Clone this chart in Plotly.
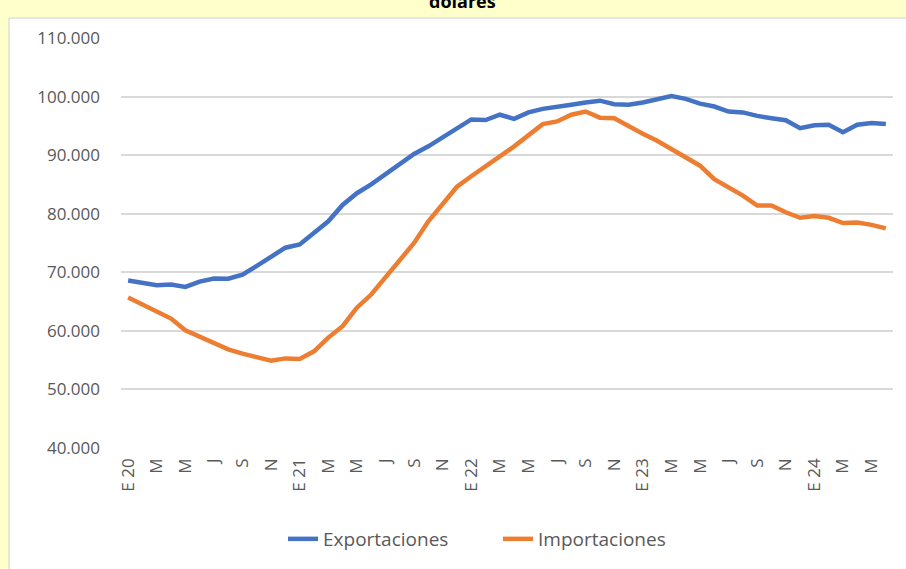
import plotly.graph_objects as go

# Monthly labels Jan 2020 .. Jun 2024 (54 months)
month_letters = ["E", "F", "M", "A", "M", "J", "J", "A", "S", "O", "N", "D"]
years = ["20", "21", "22", "23", "24"]
months = []
for y in years:
    for m in month_letters:
        months.append(f"{m} {y}" if m == "E" else m)
months = months[:54]

exportaciones = [
    68.6, 68.2, 67.8, 67.9, 67.5, 68.4, 68.95, 68.9, 69.6, 71.1,
    72.75, 74.2, 74.75, 76.7, 78.7, 81.5, 83.5, 85.0, 86.7, 88.5,
    90.2, 91.5, 93.1, 94.6, 96.1, 96.0, 96.9, 96.2, 97.3, 97.9,
    98.2, 98.6, 99.0, 99.3, 98.7, 98.6, 99.0, 99.55, 100.1, 99.6,
    98.8, 98.3, 97.45, 97.3, 96.7, 96.3, 95.95, 94.6, 95.1, 95.2,
    93.9, 95.2, 95.5, 95.3,
]
importaciones = [
    65.7, 64.5, 63.4, 62.1, 60.1, 59.0, 58.0, 56.85, 56.1, 55.45,
    54.9, 55.3, 55.2, 56.5, 58.85, 60.8, 63.95, 66.2, 69.2, 71.9,
    75.0, 78.7, 81.55, 84.6, 86.4, 88.0, 89.8, 91.5, 93.3, 95.3,
    95.75, 96.9, 97.45, 96.4, 96.3, 94.9, 93.65, 92.45, 91.0, 89.7,
    88.2, 85.9, 84.6, 83.1, 81.4, 81.4, 80.25, 79.3, 79.6, 79.3,
    78.4, 78.5, 78.1, 77.5,
]
y_ticks = [40000, 50000, 60000, 70000, 80000, 90000, 100000, 110000]

x_idx = list(range(len(months)))
tick_idx = x_idx[::2]
tick_txt = [months[i] for i in tick_idx]

W, H = 906, 569
L, R, T, B = 121, 13, 38, 120
pw, ph = W - L - R, H - T - B
bottom = T + ph  # plot bottom in figure px

def px_x(page_x):
    return (page_x - L) / pw

def px_y(page_y):
    return (bottom - page_y) / ph

fig = go.Figure()
fig.add_trace(go.Scatter(
    x=x_idx, y=[v * 1000 for v in exportaciones], name="Exportaciones",
    mode="lines", line=dict(color="#4472C4", width=4.5)))
fig.add_trace(go.Scatter(
    x=x_idx, y=[v * 1000 for v in importaciones], name="Importaciones",
    mode="lines", line=dict(color="#ED7D31", width=4.5)))

# white chart area over yellow background
fig.add_shape(type="rect", xref="paper", yref="paper",
              x0=px_x(9), x1=px_x(W + 20),
              y0=px_y(H + 20), y1=px_y(18),
              fillcolor="white", line=dict(color="#D0D0D0", width=1), layer="below")

fig.add_annotation(text="<b>dolares</b>", xref="paper", yref="paper",
                   x=px_x(462), y=px_y(1), yanchor="middle",
                   showarrow=False, font=dict(size=18, color="#000000", family="Open Sans"))

fig.update_layout(
    width=W, height=H,
    margin=dict(l=L, r=R, t=T, b=B, pad=0),
    paper_bgcolor="#FFFFCC",
    plot_bgcolor="white",
    separators=",.",
    font=dict(family="Open Sans", color="#595959", size=16),
    showlegend=True,
    legend=dict(orientation="h", x=px_x(283), xanchor="left",
                y=px_y(539), yanchor="middle", entrywidth=170, entrywidthmode="pixels",
                font=dict(size=19, color="#595959"), bgcolor="rgba(0,0,0,0)"),
    xaxis=dict(range=[-0.5, len(months) - 0.5], tickmode="array",
               tickvals=tick_idx, ticktext=tick_txt, tickangle=-90,
               showgrid=False, zeroline=False, showline=False, ticks="",
               ticklabelstandoff=6, tickfont=dict(size=17)),
    yaxis=dict(range=[40000, 110000], tickmode="array", tickvals=y_ticks,
               tickformat=",.0f", showgrid=True, gridcolor="#D9D9D9", gridwidth=1.5,
               zeroline=False, showline=False, ticks="", ticklabelstandoff=20,
               tickfont=dict(size=17)),
)

fig.write_html("out.html", config={"displayModeBar": False},
               post_script="document.body.style.margin='0';")
